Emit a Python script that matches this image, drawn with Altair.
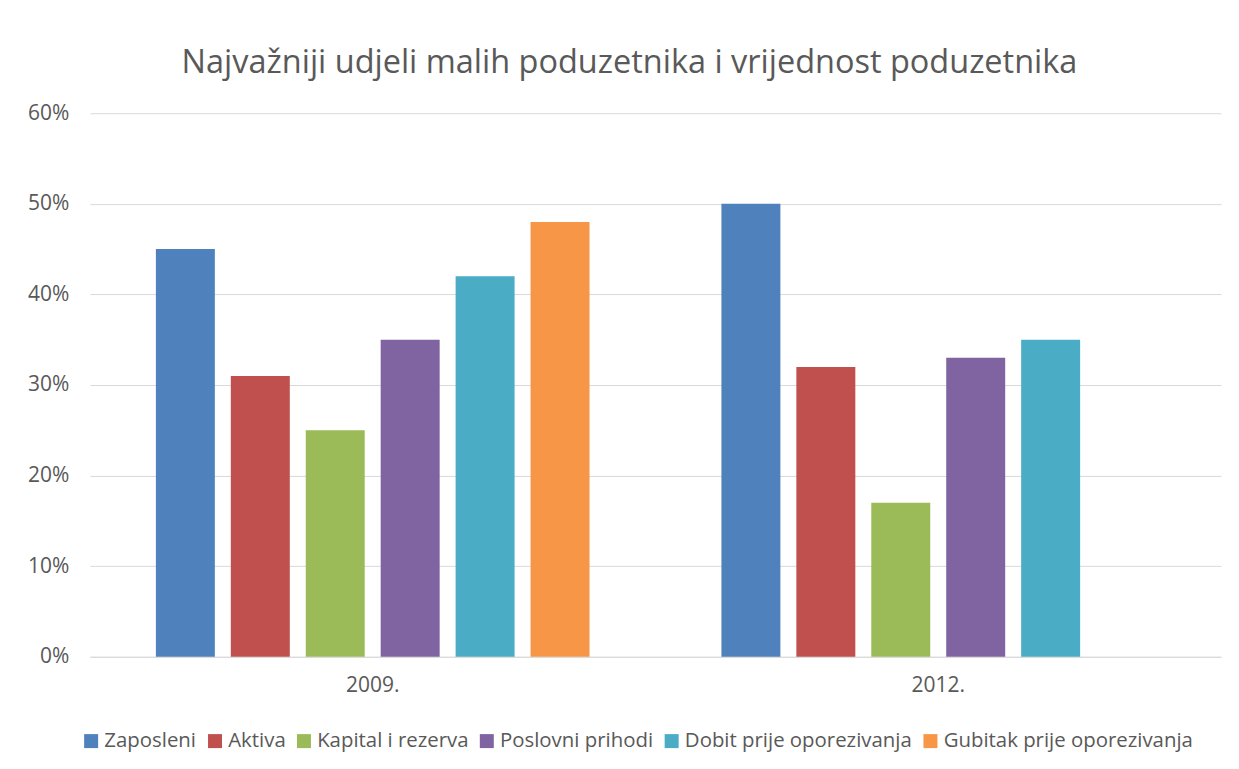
import altair as alt
import pandas as pd

years = ["2009.", "2012."]
series = ["Zaposleni", "Aktiva", "Kapital i rezerva", "Poslovni prihodi",
          "Dobit prije oporezivanja", "Gubitak prije oporezivanja"]
colors = ["#4F81BD", "#C0504D", "#9BBB59", "#8064A2", "#4BACC6", "#F79646"]
values_2009 = [45, 31, 25, 35, 42, 48]
values_2012 = [50, 32, 17, 33, 35, None]

rows = []
for yr, vals in zip(years, [values_2009, values_2012]):
    for s, v in zip(series, vals):
        if v is not None:
            rows.append({"year": yr, "series": s, "value": v})
df = pd.DataFrame(rows)

FONT = "Open Sans"
GREY = "#595959"

chart = alt.Chart(df).mark_bar().encode(
    x=alt.X("year:N", sort=years, title=None,
            scale=alt.Scale(paddingInner=0, paddingOuter=0),
            axis=alt.Axis(labelAngle=0, ticks=False, domainColor="#d9d9d9",
                          labelFontSize=21, labelColor=GREY, labelFont=FONT,
                          labelPadding=18)),
    xOffset=alt.XOffset("series:N", sort=series,
                        scale=alt.Scale(domain=series, paddingInner=0.213, paddingOuter=0.88)),
    y=alt.Y("value:Q", title=None,
            scale=alt.Scale(domain=[0, 60], nice=False),
            axis=alt.Axis(values=[0, 10, 20, 30, 40, 50, 60],
                          labelExpr="datum.value + '%'",
                          domain=False, ticks=False, gridColor="#d9d9d9",
                          labelFontSize=21, labelColor=GREY, labelFont=FONT,
                          labelPadding=21)),
    color=alt.Color("series:N", sort=series,
                    scale=alt.Scale(domain=series, range=colors),
                    legend=alt.Legend(title=None, orient="none", direction="horizontal",
                                      legendX=-9, legendY=618,
                                      symbolType="square", symbolSize=196,
                                      symbolStrokeWidth=0, symbolOpacity=1,
                                      labelFontSize=20.4, labelColor=GREY, labelFont=FONT,
                                      labelLimit=0, columnPadding=8, labelOffset=3)),
).properties(
    width=1132,
    height=544,
    title=alt.TitleParams("Najvažniji udjeli malih poduzetnika i vrijednost poduzetnika",
                          fontSize=32.5, font=FONT, fontWeight="normal", color=GREY,
                          anchor="middle", dx=-26, offset=23),
    autosize=alt.AutoSizeParams(type="none"),
    padding={"left": 82, "top": 105, "right": 10, "bottom": 100},
    background="white",
).configure_view(strokeWidth=0, stroke="transparent")

chart.save("out.html", embed_options={"renderer": "svg", "actions": False})
